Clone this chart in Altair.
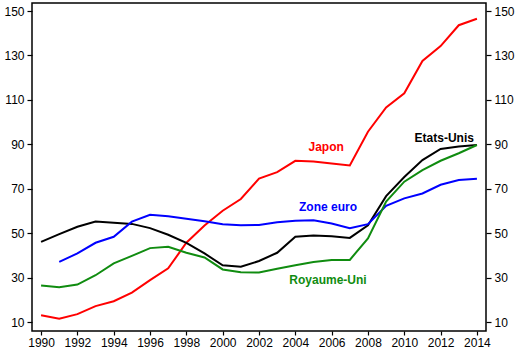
import altair as alt
import pandas as pd

years = list(range(1990, 2015))
japon = [13.1, 11.5, 13.6, 17.2, 19.4, 23.3, 28.9, 34.2, 45.7, 53.5, 60.1, 65.4, 74.6, 77.5,
         82.6, 82.3, 81.4, 80.5, 95.7, 106.6, 113.0, 127.5, 134.2, 143.6, 146.5]
etats_unis = [46.1, 49.6, 52.9, 55.3, 54.7, 54.2, 52.3, 49.3, 45.7, 40.9, 35.6, 34.9, 37.5, 41.2,
              48.4, 49.0, 48.6, 47.9, 53.6, 66.7, 75.3, 82.9, 87.9, 89.0, 89.7]
zone_euro = [None, 37.1, 40.9, 45.7, 48.4, 55.2, 58.3, 57.6, 56.5, 55.4, 54.0, 53.6, 53.7, 54.9,
             55.6, 55.8, 54.4, 52.2, 54.1, 62.3, 65.7, 67.9, 71.8, 73.9, 74.5]
royaume_uni = [26.5, 25.7, 26.9, 31.1, 36.4, 39.8, 43.3, 43.9, 41.2, 39.1, 33.7, 32.4, 32.3, 34.0,
               35.6, 37.0, 37.9, 38.0, 47.7, 64.2, 73.2, 78.4, 82.6, 86.0, 89.7]

series_names = ["Japon", "Etats-Unis", "Zone euro", "Royaume-Uni"]
series_colors = ["#ff0000", "#000000", "#0000ff", "#108c10"]
label_x = [2005.7, 2012.2, 2005.8, 2005.8]
label_y = [88.8, 92.8, 62.0, 29.0]

rows = []
for name, vals in zip(series_names, [japon, etats_unis, zone_euro, royaume_uni]):
    for yr, v in zip(years, vals):
        if v is not None:
            rows.append({"year": yr, "value": v, "series": name})
df = pd.DataFrame(rows)
labels = pd.DataFrame({"series": series_names, "x": label_x, "y": label_y})

xscale = alt.Scale(domain=[1989.5, 2014.5], nice=False, zero=False)
yscale = alt.Scale(domain=[6, 153.6], nice=False, zero=False)
cscale = alt.Scale(domain=series_names, range=series_colors)
font = "Liberation Sans"

xaxis = alt.Axis(values=list(range(1990, 2015, 2)), format="d", grid=False, tickSize=4,
                 labelFontSize=12, labelColor="black", domain=False, tickColor="black",
                 labelPadding=2, title=None, labelOverlap=False, labelFlush=False)
yvals = [10, 30, 50, 70, 90, 110, 130, 150]
yaxis_l = alt.Axis(values=yvals, grid=False, tickSize=5, labelFontSize=12, labelColor="black",
                   domain=False, tickColor="black", labelPadding=3, title=None, orient="left",
                   labelOverlap=False)
yaxis_r = alt.Axis(values=yvals, grid=False, tickSize=5, labelFontSize=12, labelColor="black",
                   domain=False, tickColor="black", labelPadding=3, title=None, orient="right",
                   labelOverlap=False)

lines = alt.Chart(df).mark_line(strokeWidth=2, interpolate="linear").encode(
    x=alt.X("year:Q", scale=xscale, axis=xaxis),
    y=alt.Y("value:Q", scale=yscale, axis=yaxis_l),
    color=alt.Color("series:N", scale=cscale, legend=None),
    detail="series:N",
)

right = alt.Chart(df).mark_line(opacity=0).encode(
    x=alt.X("year:Q", scale=xscale, axis=xaxis),
    y=alt.Y("value:Q", scale=yscale, axis=yaxis_r),
    detail="series:N",
)

text = alt.Chart(labels).mark_text(fontSize=12, fontWeight="bold", font=font).encode(
    x=alt.X("x:Q", scale=xscale, axis=xaxis),
    y=alt.Y("y:Q", scale=yscale, axis=None),
    text="series:N",
    color=alt.Color("series:N", scale=cscale, legend=None),
)

chart = alt.layer(lines, right, text).resolve_axis(y="independent").properties(
    width=454, height=328,
    autosize=alt.AutoSizeParams(type="none"),
    padding={"left": 32, "top": 3, "right": 32, "bottom": 21},
    background="white",
).configure_view(stroke="black", strokeWidth=1.5).configure_axis(
    labelFont=font, tickWidth=1.2
)

chart.save("out.html", embed_options={"renderer": "svg", "actions": False})
